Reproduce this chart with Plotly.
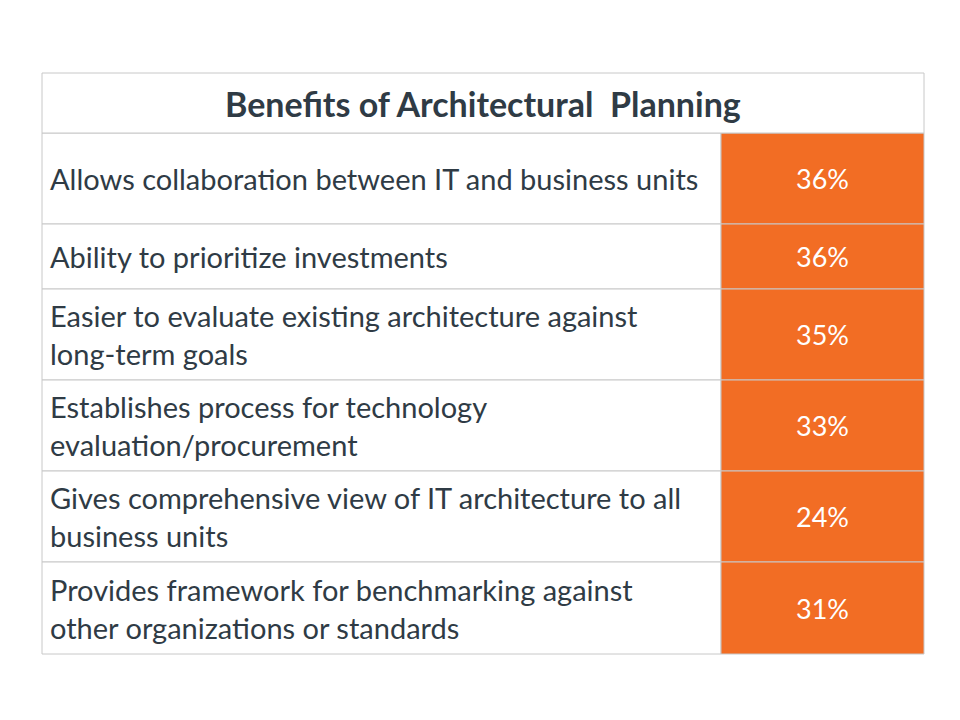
import plotly.graph_objects as go

title = "Benefits of Architectural  Planning"
benefits = [
    "Allows collaboration between IT and business units",
    "Ability to prioritize investments",
    "Easier to evaluate existing architecture against<br>long-term goals",
    "Establishes process for technology<br>evaluation/procurement",
    "Gives comprehensive view of IT architecture to all<br>business units",
    "Provides framework for benchmarking against<br>other organizations or standards",
]
shares = [36, 36, 35, 33, 24, 31]
row_heights = [91, 65, 91, 91, 91, 92]

ORANGE = "#F26D24"
TEXT = "#2F3B45"
GRID = "#C8C8C8"
FONT = "Lato, Open Sans, sans-serif"

# page body adds an 8px offset, so positions are shifted back by 8
left, split, right = 34, 713, 916
top, header_h = 65, 60

fig = go.Figure()
shapes = []
annotations = []

# header
shapes.append(dict(type="rect", x0=left, x1=right, y0=top, y1=top + header_h,
                   line=dict(color=GRID, width=1), fillcolor="white"))
annotations.append(dict(x=(left + right) / 2, y=top + header_h / 2, text="<b>" + title + "</b>",
                        showarrow=False, font=dict(size=34, color=TEXT, family=FONT)))

y = top + header_h
for label, val, h in zip(benefits, shares, row_heights):
    shapes.append(dict(type="rect", x0=left, x1=split, y0=y, y1=y + h,
                       line=dict(color=GRID, width=1), fillcolor="white", layer="below"))
    shapes.append(dict(type="rect", x0=split, x1=right, y0=y, y1=y + h,
                       line=dict(color=GRID, width=1), fillcolor=ORANGE, layer="below"))
    annotations.append(dict(x=left + 6, y=y + h / 2, text=label, xanchor="left", align="left",
                            showarrow=False, font=dict(size=29, color=TEXT, family=FONT)))
    annotations.append(dict(x=(split + right) / 2, y=y + h / 2, text=f"{val}%",
                            showarrow=False, font=dict(size=27, color="white", family=FONT)))
    y += h

fig.update_layout(
    width=960, height=720,
    margin=dict(l=0, r=0, t=0, b=0),
    paper_bgcolor="white", plot_bgcolor="white",
    xaxis=dict(range=[0, 960], visible=False, fixedrange=True),
    yaxis=dict(range=[720, 0], visible=False, fixedrange=True),
    shapes=shapes, annotations=annotations,
    showlegend=False,
)

fig.write_html("out.html")
